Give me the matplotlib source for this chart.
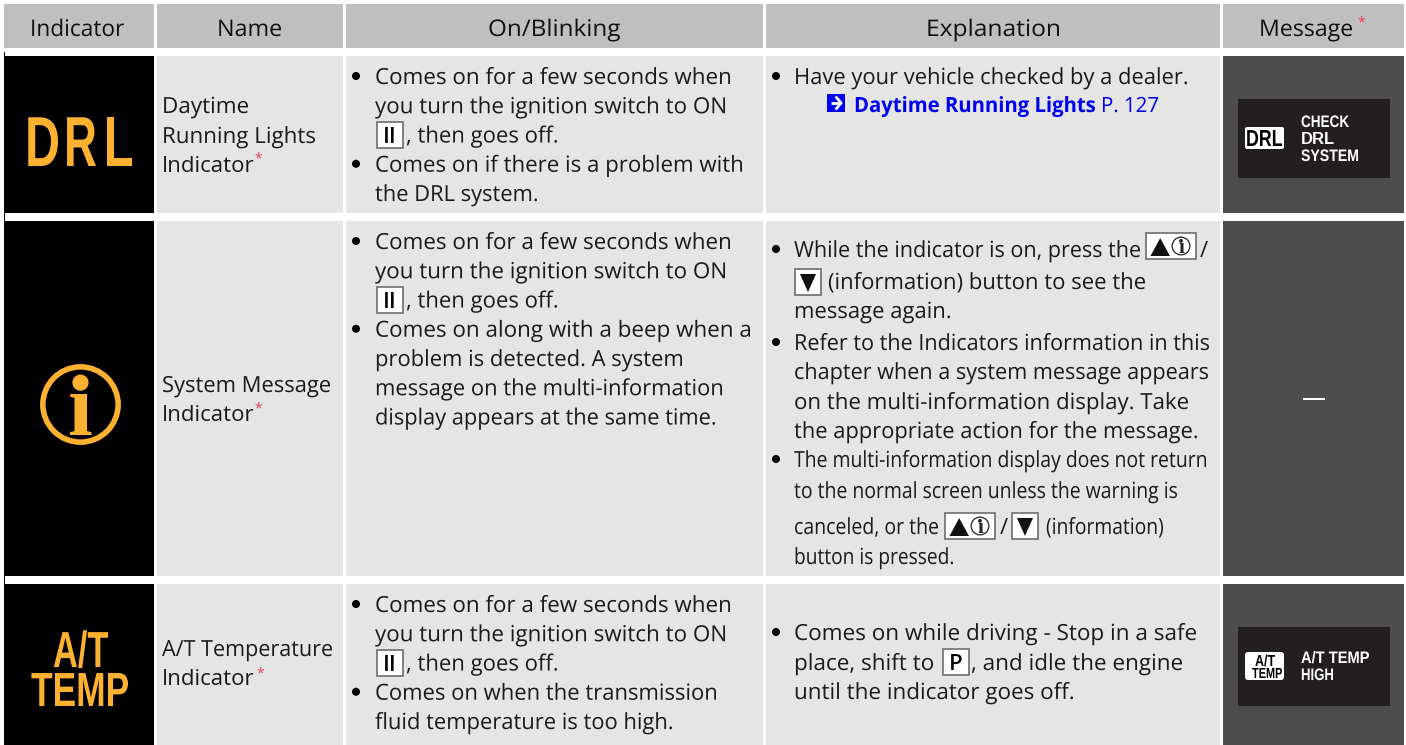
import matplotlib
matplotlib.use("Agg")
import matplotlib.pyplot as plt
from matplotlib.colors import to_rgba
from matplotlib.patches import Rectangle, Circle, Polygon, FancyBboxPatch
from matplotlib.text import Text, TextPath
from matplotlib.transforms import Affine2D, Bbox

# table content
headers = ["Indicator", "Name", "On/Blinking", "Explanation", "Message"]
name_row1 = ["Daytime", "Running Lights", "Indicator"]
name_row2 = ["System Message", "Indicator"]
name_row3 = ["A/T Temperature", "Indicator"]
on_row1 = ["Comes on for a few seconds when", "you turn the ignition switch to ON", "", "Comes on if there is a problem with", "the DRL system."]
on_row2 = ["Comes on for a few seconds when", "you turn the ignition switch to ON", "", "Comes on along with a beep when a",
           "problem is detected. A system", "message on the multi-information", "display appears at the same time."]
on_row3 = ["Comes on for a few seconds when", "you turn the ignition switch to ON", "", "Comes on when the transmission",
           "fluid temperature is too high."]
then_off = ", then goes off."
expl_row1 = "Have your vehicle checked by a dealer."
link_bold = "Daytime Running Lights"
link_page = "P. 127"
expl_row2 = ["While the indicator is on, press the", "(information) button to see the", "message again.",
             "Refer to the Indicators information in this", "chapter when a system message appears",
             "on the multi-information display. Take", "the appropriate action for the message."]
expl_row2_narrow = ["The multi-information display does not return", "to the normal screen unless the warning is",
                    "canceled, or the", "(information)", "button is pressed."]
expl_row3 = ["Comes on while driving - Stop in a safe", "place, shift to", ", and idle the engine", "until the indicator goes off."]
msg_row1 = ["CHECK", "DRL", "SYSTEM"]
msg_row3 = ["A/T TEMP", "HIGH"]

# colours
HEAD = "#bfbfbf"
CELL = "#e5e5e5"
PANEL = "#4d4d4d"
SCREEN = "#231f20"
ORANGE = "#fdb130"
INK = "#1a1a1a"
RED = "#ee3b4d"
BLUE = "#0000f0"

FONT = "Open Sans"
ICON = "Liberation Sans"
SIZE = 16

columns = [(4, 154), (157, 343), (346, 763), (766, 1220), (1223, 1404)]
rows = [(56, 213), (221, 576), (584, 745)]
header_x = [30, 217, 488, 926, 1259]
header_end = [124, 281, 620, 1059, 1352]

# right end of each line in the scan, the lettering there is squeezed line by line
line_end = {
    "Daytime": 248, "Running Lights": 315, "System Message": 330, "A/T Temperature": 332,
    "Comes on for a few seconds when": 730, "you turn the ignition switch to ON": 725,
    "Comes on if there is a problem with": 742, "the DRL system.": 537,
    "Comes on along with a beep when a": 750, "problem is detected. A system": 682,
    "message on the multi-information": 722, "display appears at the same time.": 715,
    "Comes on when the transmission": 716, "fluid temperature is too high.": 672,
    ", then goes off.": 557,
    "Have your vehicle checked by a dealer.": 1187, "Daytime Running Lights": 1095, "P. 127": 1158,
    "While the indicator is on, press the": 1140, "(information) button to see the": 1145, "message again.": 950,
    "Refer to the Indicators information in this": 1209, "chapter when a system message appears": 1208,
    "on the multi-information display. Take": 1188, "the appropriate action for the message.": 1197,
    "The multi-information display does not return": 1206, "to the normal screen unless the warning is": 1177,
    "canceled, or the": 938, "(information)": 1163, "button is pressed.": 953,
    "Comes on while driving - Stop in a safe": 1196, "place, shift to": 933, ", and idle the engine": 1182,
    "until the indicator goes off.": 1073,
    "CHECK": 1349, "SYSTEM": 1358, "A/T TEMP": 1369, "HIGH": 1333,
}

fig = plt.figure(figsize=(14.06, 7.45), dpi=100)
ax = fig.add_axes([0, 0, 1, 1])
ax.set_xlim(0, 1406)
ax.set_ylim(745, 0)
ax.axis("off")


class FitText(Text):
    # text fitted so it ends width px after x, tall stretches it upwards
    def __init__(self, x, y, s, width, tall=1, **kw):
        super().__init__(x, y, s, **kw)
        self.fit_width = width
        self.tall = tall

    def placed(self):
        px = self.get_fontsize() * fig.dpi / 72
        path = TextPath((0, 0), self.get_text(), size=px, prop=self.get_fontproperties())
        ext = path.get_extents()
        dx, dy = self.get_transform().transform(self.get_position())
        return path, Affine2D().scale(self.fit_width / ext.x1, self.tall).translate(dx, dy)

    def get_window_extent(self, renderer=None, dpi=None):
        path, tr = self.placed()
        return Bbox(path.get_extents(tr))

    def draw(self, renderer):
        path, tr = self.placed()
        gc = renderer.new_gc()
        gc.set_antialiased(True)
        gc.set_linewidth(0)
        renderer.draw_path(gc, path, tr, rgbFace=to_rgba(self.get_color()))
        gc.restore()


def box(x0, x1, y0, y1, color):
    ax.add_patch(Rectangle((x0, y0), x1 - x0, y1 - y0, facecolor=color, edgecolor="none"))


def fit(x, y, s, width, size=SIZE, color=INK, family=FONT, weight="normal", tall=1):
    ax.add_artist(FitText(x, y, s, width, tall=tall, fontsize=size, color=color, family=family, fontweight=weight))


def write(x, y, s, size=SIZE, color=INK, family=FONT, weight="normal"):
    if s in line_end:
        fit(x, y, s, line_end[s] - x, size, color, family, weight=weight)
    else:
        ax.text(x, y, s, fontsize=size, color=color, family=family, fontweight=weight, va="baseline")


def star(x, y):
    ax.text(x, y + 2, "*", fontsize=10, color=RED, family=FONT, ha="center", va="center")


def bullet(x, y):
    ax.add_patch(Circle((x, y), 4, facecolor="black", edgecolor="none"))


def key(x0, x1, y0, y1):
    ax.add_patch(Rectangle((x0, y0), x1 - x0, y1 - y0, facecolor="white", edgecolor="#6e6e6e", linewidth=1.2))


def info(cx, cy, r, color, lw):
    # circle with a serif i, sizes relative to the radius
    ax.add_patch(Circle((cx, cy), r - lw / 1.4, facecolor="none", edgecolor=color, linewidth=lw))
    ax.add_patch(Circle((cx, cy - 0.54 * r), 0.2 * r, facecolor=color, edgecolor="none"))
    ax.text(cx, cy + 0.745 * r, "\u0131", fontsize=1.58 * r, color=color, family="Liberation Serif",
            fontweight="bold", ha="center", va="baseline")


def up_info_key(x0, y0):
    key(x0, x0 + 50, y0, y0 + 26)
    ax.add_patch(Polygon([(x0 + 4.5, y0 + 23), (x0 + 24, y0 + 23), (x0 + 14.2, y0 + 5)], facecolor="#111111"))
    info(x0 + 35, y0 + 13, 9.5, "#222222", 0.9)


def down_key(x0, y0):
    key(x0, x0 + 26, y0, y0 + 26)
    ax.add_patch(Polygon([(x0 + 5, y0 + 5), (x0 + 21, y0 + 5), (x0 + 13, y0 + 23)], facecolor="#111111"))


def letter_key(x0, y0, s):
    key(x0, x0 + 26, y0, y0 + 26)
    ax.text(x0 + 13, y0 + 21, s, fontsize=16, color="black", family=FONT, fontweight="semibold",
            ha="center", va="baseline")


# header and cell backgrounds
for (x0, x1), hx, hend, h in zip(columns, header_x, header_end, headers):
    box(x0, x1, 4, 48, HEAD)
    fit(hx, 36, h, hend - hx, size=16.5, color="#111111")
star(1361, 21)
box(4, 5, 52, 745, "black")
for y0, y1 in rows:
    box(columns[0][0], columns[0][1], y0, y1, "black")
    box(columns[1][0], columns[1][1], y0, y1, CELL)
    box(columns[2][0], columns[2][1], y0, y1, CELL)
    box(columns[3][0], columns[3][1], y0, y1, CELL)
    box(columns[4][0], columns[4][1], y0, y1, PANEL)

# indicator icons
for x, s, xend in zip([25, 64, 104], "DRL", [58, 96, 132]):
    fit(x, 166, s, xend - x, size=30, color=ORANGE, family=ICON, weight="bold", tall=51 / 30)
info(80.5, 404.5, 40.5, ORANGE, 4)
fit(53, 667, "A/T", 55, size=25, color=ORANGE, family=ICON, weight="bold", tall=36.5 / 25)
fit(31, 706, "TEMP", 97, size=24, color=ORANGE, family=ICON, weight="bold", tall=34.5 / 24)

# name column
for y, s in zip([113, 143, 172], name_row1):
    write(162, y, s)
star(258, 157)
for y, s in zip([392, 421], name_row2):
    write(162, y, s)
star(258, 407)
for y, s in zip([656, 685], name_row3):
    write(162, y, s)
star(260, 672)

# on/blinking column
for y0, lines in [(84, on_row1), (249, on_row2), (612, on_row3)]:
    for i, s in enumerate(lines):
        if s:
            write(375, y0 + i * 29.25, s)
    bullet(356, y0 - 8)
    bullet(356, y0 - 8 + 3 * 29.25)
    letter_key(377, y0 + 38, "II")
    write(406, y0 + 58.5, then_off)

# explanation column
bullet(776, 76)
write(794, 84, expl_row1)
box(827, 845, 94, 112, BLUE)
ax.plot([831, 841], [103, 103], color="white", lw=2, solid_capstyle="butt")
ax.plot([836.5, 841, 836.5], [97.5, 103, 108.5], color="white", lw=2, solid_joinstyle="miter")
write(854, 112, link_bold, size=15.1, color=BLUE, weight="bold")
write(1101, 112, link_page, size=15.1, color=BLUE)

write(794, 257, expl_row2[0])
up_info_key(1146, 233)
write(1200, 257, "/")
down_key(795, 269)
write(828, 289, expl_row2[1])
for y, s in zip([318, 350, 379, 409, 438], expl_row2[2:]):
    write(794, y, s)
for y in [249, 342, 459]:
    bullet(776, y)

write(794, 467, expl_row2_narrow[0])
write(794, 498, expl_row2_narrow[1])
write(794, 534, expl_row2_narrow[2])
up_info_key(945, 513)
write(1000, 534, "/")
down_key(1012, 513)
write(1046, 534, expl_row2_narrow[3])
write(794, 564, expl_row2_narrow[4])

bullet(776, 632)
write(794, 640, expl_row3[0])
write(794, 670, expl_row3[1])
letter_key(943, 649, "P")
write(971, 670, expl_row3[2])
write(794, 699, expl_row3[3])

# message column
fit(1302, 405, "\u2014", 23, color="white")
box(1238, 1390, 99, 178, SCREEN)
ax.add_patch(FancyBboxPatch((1245, 127), 39, 22, boxstyle="round,pad=0,rounding_size=2", facecolor="white", edgecolor="none"))
fit(1246, 146, "DRL", 36, size=16.7, color="black", family=ICON, weight="bold")
for y, s in zip([127, 144, 161], msg_row1):
    write(1301, y, s, size=12, color="white", family=ICON, weight="bold")
box(1238, 1390, 627, 706, SCREEN)
ax.add_patch(FancyBboxPatch((1245, 652), 39, 28, boxstyle="round,pad=0,rounding_size=3", facecolor="white", edgecolor="none"))
fit(1255, 666, "A/T", 20, size=11.5, color="black", family=ICON, weight="bold")
fit(1252, 678, "TEMP", 30, size=10.5, color="black", family=ICON, weight="bold")
for y, s in zip([663, 680], msg_row3):
    write(1301, y, s, size=12, color="white", family=ICON, weight="bold")

fig.savefig("out.png", dpi=100)
